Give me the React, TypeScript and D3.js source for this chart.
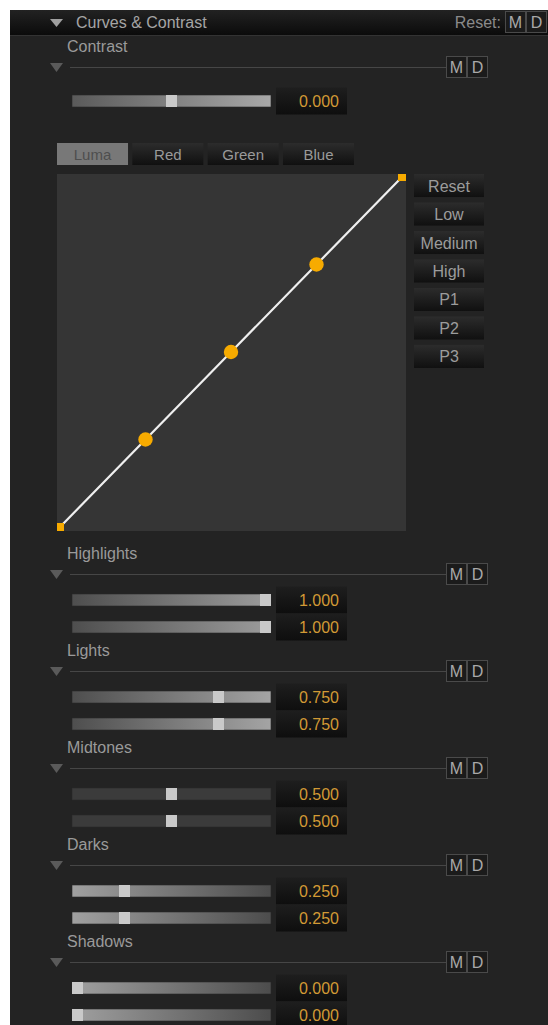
import React from "react";
import * as d3 from "d3";

const tabs = ["Luma", "Red", "Green", "Blue"];
const presets = ["Reset", "Low", "Medium", "High", "P1", "P2", "P3"];
const curveX = [0, 0.25, 0.5, 0.75, 1];
const curveY = [0, 0.25, 0.5, 0.75, 1];
const contrastValue = 0.0;
const sections = ["Highlights", "Lights", "Midtones", "Darks", "Shadows"];
const valuesA = [1.0, 0.75, 0.5, 0.25, 0.0];
const valuesB = [1.0, 0.75, 0.5, 0.25, 0.0];

const FONT = "'Liberation Sans', Arial, Helvetica, sans-serif";
const W = 548;
const H = 1025;

const trackStyles: Record<string, [string, string]> = {
  Contrast: ["#5a5a5a", "#a8a8a8"],
  Highlights: ["#4e4e4e", "#9c9c9c"],
  Lights: ["#4e4e4e", "#a4a4a4"],
  Midtones: ["#3b3b3b", "#3b3b3b"],
  Darks: ["#a0a0a0", "#4c4c4c"],
  Shadows: ["#a0a0a0", "#4c4c4c"],
};

const TRACK_X0 = 72;
const TRACK_X1 = 271;
const THUMB_W = 11;
const TRACK_H = 12;

function Slider({ id, cy, value, domain }: { id: string; cy: number; value: number; domain: [number, number] }) {
  const thumbScale = d3.scaleLinear().domain(domain).range([TRACK_X0, TRACK_X1 - THUMB_W]);
  const tx = thumbScale(value);
  const fmt = d3.format(".3f");
  return (
    <g>
      <rect x={TRACK_X0} y={cy - TRACK_H / 2} width={TRACK_X1 - TRACK_X0} height={TRACK_H} fill={`url(#trk-${id})`} stroke="#2a2a2a" strokeWidth={0.6} />
      <rect x={tx} y={cy - TRACK_H / 2} width={THUMB_W} height={TRACK_H} fill="#c9c9c9" />
      <rect x={276} y={cy - 13.5} width={71} height={27} fill="url(#valbox)" />
      <text x={339} y={cy + 0.5} textAnchor="end" dominantBaseline="central" fill="#d29a35" fontSize={16} fontFamily={FONT}>
        {fmt(value)}
      </text>
    </g>
  );
}

function MD({ x, cy }: { x: number; cy: number }) {
  return (
    <g>
      {["M", "D"].map((t, i) => (
        <g key={t}>
          <rect x={x + i * 21 + 0.5} y={cy - 10.5} width={20} height={21} fill="#1b1b1b" stroke="#4a4a4a" strokeWidth={1} />
          <text x={x + i * 21 + 10.5} y={cy + 0.5} textAnchor="middle" dominantBaseline="central" fill="#a9a9a9" fontSize={16} fontFamily={FONT}>
            {t}
          </text>
        </g>
      ))}
    </g>
  );
}

function SectionHeader({ label, lineY }: { label: string; lineY: number }) {
  return (
    <g>
      <text x={67} y={lineY - 15} fill="#9a9a9a" fontSize={16} fontFamily={FONT}>
        {label}
      </text>
      <path d={`M50,${lineY - 4} L63,${lineY - 4} L56.5,${lineY + 5} Z`} fill="#5a5a5a" />
      <line x1={70} x2={446} y1={lineY + 0.5} y2={lineY + 0.5} stroke="#464646" strokeWidth={1} />
      <MD x={446} cy={lineY} />
    </g>
  );
}

export default function App() {
  const xs = d3.scaleLinear().domain([0, 1]).range([60, 402]);
  const ys = d3.scaleLinear().domain([0, 1]).range([527, 177]);
  const pts = curveX.map((x, i) => [xs(x), ys(curveY[i])] as [number, number]);
  const line = d3.line()(pts) || "";
  const tabX = d3.scaleBand().domain(tabs).range([57, 354]).paddingInner(0.057);
  const presetY = d3.scaleBand().domain(presets).range([174, 368]).paddingInner(0.19);
  const sectionY = d3.scaleLinear().domain([0, 4]).range([574, 962]);

  return (
    <svg width={W} height={H} style={{ position: "absolute", left: 0, top: 0, display: "block" }}>
      <defs>
        {Object.entries(trackStyles).map(([k, [a, b]]) => (
          <linearGradient key={k} id={`trk-${k}`} x1="0" x2="1" y1="0" y2="0">
            <stop offset="0" stopColor={a} />
            <stop offset="1" stopColor={b} />
          </linearGradient>
        ))}
        <linearGradient id="valbox" x1="0" x2="0" y1="0" y2="1">
          <stop offset="0" stopColor="#1e1e1e" />
          <stop offset="1" stopColor="#0e0e0e" />
        </linearGradient>
        <linearGradient id="btn" x1="0" x2="0" y1="0" y2="1">
          <stop offset="0" stopColor="#2c2c2c" />
          <stop offset="1" stopColor="#101010" />
        </linearGradient>
        <linearGradient id="hdr" x1="0" x2="0" y1="0" y2="1">
          <stop offset="0" stopColor="#222222" />
          <stop offset="1" stopColor="#0b0b0b" />
        </linearGradient>
        <clipPath id="curveClip">
          <rect x={57} y={174} width={349} height={357} />
        </clipPath>
      </defs>
      <rect x={0} y={0} width={W} height={H} fill="#ffffff" />
      <rect x={10} y={10} width={W - 10} height={H - 10} fill="#232323" />
      {/* header */}
      <rect x={10} y={10} width={W - 10} height={25} fill="url(#hdr)" />
      <line x1={10} x2={W} y1={35.5} y2={35.5} stroke="#333333" />
      <path d="M50,19 L63,19 L56.5,27 Z" fill="#a0a0a0" />
      <text x={76} y={28} fill="#a5a5a5" fontSize={16} fontFamily={FONT}>
        Curves &amp; Contrast
      </text>
      <text x={501} y={28} textAnchor="end" fill="#8a8a8a" fontSize={16} fontFamily={FONT}>
        Reset:
      </text>
      <MD x={505} cy={22} />

      {/* contrast */}
      <SectionHeader label="Contrast" lineY={67} />
      <Slider id="Contrast" cy={101} value={contrastValue} domain={[-1, 1]} />

      {/* tabs */}
      {tabs.map((t, i) => (
        <g key={t}>
          <rect x={tabX(t)} y={143} width={tabX.bandwidth()} height={22} fill={i === 0 ? "#787878" : "url(#btn)"} />
          <text x={(tabX(t) as number) + tabX.bandwidth() / 2} y={154.5} textAnchor="middle" dominantBaseline="central" fill={i === 0 ? "#4e4e4e" : "#9a9a9a"} fontSize={15} fontFamily={FONT}>
            {t}
          </text>
        </g>
      ))}

      {/* curve box */}
      <rect x={57} y={174} width={349} height={357} fill="#353535" />
      <g clipPath="url(#curveClip)">
        <path d={line} fill="none" stroke="#efefef" strokeWidth={2.2} />
        {pts.map(([x, y], i) =>
          i === 0 || i === pts.length - 1 ? (
            <rect key={i} x={x - 4} y={y - 4} width={8} height={8} fill="#f7ab00" />
          ) : (
            <circle key={i} cx={x} cy={y} r={7.2} fill="#f7ab00" />
          )
        )}
      </g>

      {/* preset buttons */}
      {presets.map((p) => (
        <g key={p}>
          <rect x={414} y={presetY(p)} width={70} height={presetY.bandwidth()} fill="url(#btn)" />
          <text x={449} y={(presetY(p) as number) + presetY.bandwidth() / 2 + 0.5} textAnchor="middle" dominantBaseline="central" fill="#9c9c9c" fontSize={16} fontFamily={FONT}>
            {p}
          </text>
        </g>
      ))}

      {/* sections */}
      {sections.map((s, i) => {
        const ly = sectionY(i);
        return (
          <g key={s}>
            <SectionHeader label={s} lineY={ly} />
            <Slider id={s} cy={ly + 26} value={valuesA[i]} domain={[0, 1]} />
            <Slider id={s} cy={ly + 53} value={valuesB[i]} domain={[0, 1]} />
          </g>
        );
      })}
    </svg>
  );
}
